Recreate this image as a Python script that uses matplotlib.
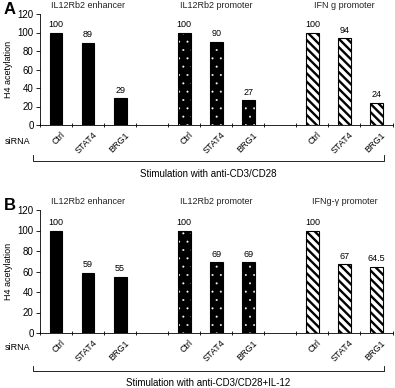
import matplotlib
matplotlib.use("Agg")
import matplotlib.pyplot as plt
from matplotlib.lines import Line2D

plt.rcParams["font.family"] = ["Liberation Sans", "DejaVu Sans"]

categories = ["Ctrl", "STAT4", "BRG1"]
groups = ["IL12Rb2 enhancer", "IL12Rb2 promoter", "IFN g promoter"]
groups_b = ["IL12Rb2 enhancer", "IL12Rb2 promoter", "IFNg-\u03b3 promoter"]

values_a = {
    "enhancer": [100, 89, 29],
    "promoter": [100, 90, 27],
    "ifng": [100, 94, 24],
}
values_b = {
    "enhancer": [100, 59, 55],
    "promoter": [100, 69, 69],
    "ifng": [100, 67, 64.5],
}
labels_b_ifng = ["100", "67", "64.5"]

yticks = [0, 20, 40, 60, 80, 100, 120]

W, H = 395, 388
fig = plt.figure(figsize=(W / 100, H / 100), dpi=100)


def fx(px):
    return px / W


def fy(py):
    return 1 - py / H


def draw_panel(ax, vals, titles, value_labels=None):
    keys = ["enhancer", "promoter", "ifng"]
    width = 0.4
    for g, key in enumerate(keys):
        xs = [g * 4 + i for i in range(3)]
        ys = vals[key]
        if key == "enhancer":
            ax.bar(xs, ys, width, color="black", edgecolor="black", linewidth=0.8)
        elif key == "promoter":
            with plt.rc_context({"hatch.linewidth": 0.2}):
                ax.bar(xs, ys, width, color="black", edgecolor="white", hatch="..", linewidth=0)
            ax.bar(xs, ys, width, color="none", edgecolor="black", linewidth=0.8)
        else:
            with plt.rc_context({"hatch.linewidth": 1.7}):
                ax.bar(xs, ys, width, color="white", edgecolor="black", hatch="\\\\\\\\", linewidth=0.8)
        for i, (x, y) in enumerate(zip(xs, ys)):
            txt = str(y) if value_labels is None or key != "ifng" else value_labels[i]
            ax.annotate(txt, (x, y), xytext=(0, 2.5), textcoords="offset points",
                        ha="center", va="bottom", fontsize=6.5)
        ax.text(g * 4 + 1, 1.035, titles[g], transform=ax.get_xaxis_transform(),
                ha="center", va="bottom", fontsize=6.5, color="#222222")

    ax.set_xlim(-0.5, 10.5)
    ax.set_ylim(0, 120)
    ax.set_yticks(yticks)
    ax.tick_params(axis="y", labelsize=7, length=3, width=0.6, pad=1.5)
    ax.set_xticks([x + 0.5 for x in range(-1, 11)])
    ax.set_xticklabels([])
    ax.tick_params(axis="x", direction="inout", length=3, width=0.6)
    centers = [g * 4 + i for g in range(3) for i in range(3)]
    for c, lab in zip(centers, categories * 3):
        ax.annotate(lab, (c, 0), xycoords=("data", "axes fraction"),
                    xytext=(3, -4), textcoords="offset points",
                    rotation=45, ha="right", va="top", rotation_mode="anchor",
                    fontsize=6.5)
    for s in ["top", "right"]:
        ax.spines[s].set_visible(False)
    for s in ["left", "bottom"]:
        ax.spines[s].set_linewidth(0.6)
    ax.set_ylabel("H4 acetylation", fontsize=6.5, labelpad=3)


ax_a = fig.add_axes([fx(40), fy(125), fx(392.5) - fx(40), fy(14) - fy(125)])
ax_b = fig.add_axes([fx(40), fy(333), fx(392.5) - fx(40), fy(210) - fy(333)])

draw_panel(ax_a, values_a, groups)
draw_panel(ax_b, values_b, groups_b, labels_b_ifng)

# panel letters
fig.text(fx(4), fy(10), "A", fontsize=12, fontweight="bold", va="center")
fig.text(fx(4), fy(206), "B", fontsize=12, fontweight="bold", va="center")

# siRNA labels
fig.text(fx(5), fy(142), "siRNA", fontsize=6.5, va="center")
fig.text(fx(5), fy(347), "siRNA", fontsize=6.5, va="center")


def bracket(y_top, y_bot, text_y, text):
    pts_x = [fx(33), fx(33), fx(384), fx(384)]
    pts_y = [fy(y_top), fy(y_bot), fy(y_bot), fy(y_top)]
    fig.add_artist(Line2D(pts_x, pts_y, color="black", linewidth=0.6))
    fig.text(fx(208), fy(text_y), text, fontsize=7, ha="center", va="center")


bracket(155, 161, 174, "Stimulation with anti-CD3/CD28")
bracket(366, 371, 383, "Stimulation with anti-CD3/CD28+IL-12")

fig.savefig("out.png", dpi=100)
